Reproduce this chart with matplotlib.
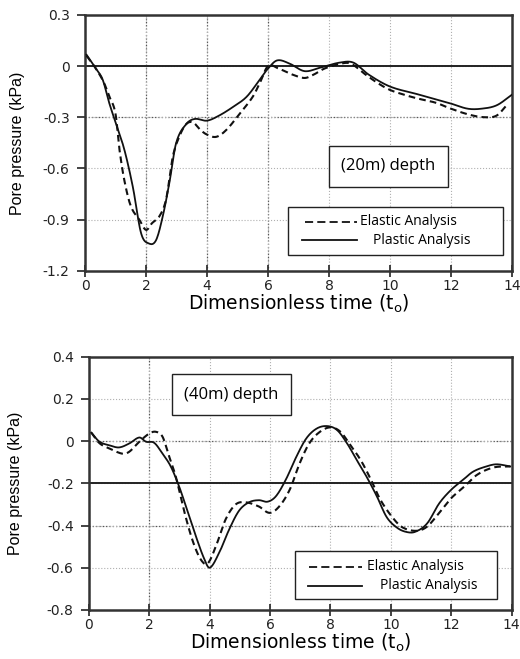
import matplotlib
matplotlib.use("Agg")
import matplotlib.pyplot as plt
from matplotlib.patches import Rectangle
import numpy as np

plt.rcParams['font.family'] = ['DejaVu Sans']

# --- 20 m depth ---
t20_el = [0.05, 0.3, 0.6, 0.8, 1.0, 1.13, 1.29, 1.5, 1.78, 2.0, 2.2, 2.44, 2.66, 2.88, 3.1, 3.32,
          3.54, 3.76, 3.98, 4.3, 4.63, 5.07, 5.5, 5.73, 6.0, 6.35, 6.8, 7.2, 7.5, 7.85, 8.3, 8.7,
          9.2, 9.6, 10.0, 10.5, 10.9, 11.5, 12.0, 12.6, 13.1, 13.5, 13.85]
p20_el = [0.06, 0.0, -0.09, -0.18, -0.28, -0.49, -0.67, -0.82, -0.9, -0.96, -0.92, -0.88, -0.78,
          -0.53, -0.41, -0.34, -0.33, -0.37, -0.40, -0.415, -0.375, -0.28, -0.18, -0.10, 0.0,
          -0.015, -0.05, -0.07, -0.05, -0.015, 0.01, 0.015, -0.05, -0.10, -0.14, -0.17, -0.19,
          -0.215, -0.25, -0.285, -0.30, -0.29, -0.225]
t20_pl = [0.05, 0.36, 0.58, 0.8, 1.02, 1.29, 1.57, 1.84, 2.1, 2.33, 2.55, 2.77, 2.99, 3.32, 3.6,
          4.0, 4.4, 4.85, 5.3, 5.73, 6.0, 6.3, 6.7, 7.2, 7.7, 8.35, 8.8, 9.3, 10.0, 10.9, 12.0,
          12.55, 13.0, 13.5, 14.0]
p20_pl = [0.066, -0.016, -0.08, -0.22, -0.34, -0.49, -0.71, -0.98, -1.04, -1.02, -0.88, -0.68,
          -0.45, -0.34, -0.31, -0.32, -0.29, -0.24, -0.18, -0.08, -0.015, 0.033, 0.015, -0.03,
          -0.01, 0.02, 0.02, -0.05, -0.12, -0.165, -0.22, -0.25, -0.25, -0.23, -0.168]

# --- 40 m depth ---
t40_el = [0.08, 0.35, 0.68, 1.12, 1.34, 1.67, 2.0, 2.22, 2.44, 2.66, 2.88, 3.15, 3.43, 3.7, 3.93,
          4.2, 4.53, 4.86, 5.19, 5.63, 5.98, 6.3, 6.65, 6.98, 7.3, 7.65, 8.0, 8.33, 8.66, 9.0,
          9.33, 9.66, 10.1, 10.4, 10.85, 11.2, 11.6, 12.0, 12.4, 12.85, 13.4, 13.95]
p40_el = [0.04, -0.01, -0.035, -0.06, -0.05, -0.003, 0.036, 0.044, 0.02, -0.074, -0.17, -0.33,
          -0.47, -0.56, -0.58, -0.50, -0.37, -0.30, -0.29, -0.31, -0.34, -0.31, -0.23, -0.105,
          -0.01, 0.044, 0.065, 0.044, -0.02, -0.09, -0.18, -0.28, -0.37, -0.41, -0.425, -0.405,
          -0.34, -0.27, -0.22, -0.16, -0.125, -0.12]
t40_pl = [0.08, 0.35, 0.68, 1.0, 1.34, 1.67, 1.89, 2.16, 2.44, 2.71, 2.99, 3.26, 3.54, 3.81, 4.0,
          4.31, 4.64, 4.97, 5.3, 5.63, 5.92, 6.2, 6.53, 6.87, 7.2, 7.55, 7.9, 8.22, 8.55, 8.87,
          9.2, 9.53, 9.86, 10.2, 10.5, 10.8, 11.2, 11.6, 12.0, 12.38, 12.72, 13.16, 13.5, 13.95]
p40_pl = [0.04, -0.003, -0.02, -0.03, -0.011, 0.017, -0.003, -0.008, -0.06, -0.12, -0.216, -0.33,
          -0.45, -0.555, -0.60, -0.53, -0.42, -0.33, -0.29, -0.28, -0.287, -0.26, -0.18, -0.074,
          0.013, 0.06, 0.071, 0.052, -0.011, -0.09, -0.17, -0.26, -0.36, -0.41, -0.43, -0.43,
          -0.39, -0.295, -0.23, -0.185, -0.145, -0.12, -0.11, -0.12]

yt20 = [0.3, 0, -0.3, -0.6, -0.9, -1.2]
yl20 = ['0.3', '0', '-0.3', '-0.6', '-0.9', '-1.2']
yt40 = [0.4, 0.2, 0, -0.2, -0.4, -0.6, -0.8]
yl40 = ['0.4', '0.2', '0', '-0.2', '-0.4', '-0.6', '-0.8']
xt = [0, 2, 4, 6, 8, 10, 12, 14]

DASH = (0, (3.2, 2))
KEYDASH = (0, (4.5, 2.3))


def smooth(t, p):
    # cubic Hermite (Catmull-Rom) through the read points
    t = np.asarray(t); p = np.asarray(p)
    tt = np.linspace(t[0], t[-1], 600)
    out = np.empty_like(tt)
    for k, x in enumerate(tt):
        i = min(max(np.searchsorted(t, x) - 1, 0), len(t) - 2)
        i0, i1, i2, i3 = max(i - 1, 0), i, i + 1, min(i + 2, len(t) - 1)
        h = t[i2] - t[i1]
        s = (x - t[i1]) / h
        m1 = (p[i2] - p[i0]) / (t[i2] - t[i0]) * h
        m2 = (p[i3] - p[i1]) / (t[i3] - t[i1]) * h
        out[k] = ((2*s**3 - 3*s**2 + 1) * p[i1] + (s**3 - 2*s**2 + s) * m1
                  + (-2*s**3 + 3*s**2) * p[i2] + (s**3 - s**2) * m2)
    return tt, out


def key(ax, box, rows):
    # hand-placed legend box: box = (x0, y0, x1, y1); rows = (y, x0, x1, xtext, style, label)
    tr = ax.transAxes
    ax.add_patch(Rectangle((box[0], box[1]), box[2] - box[0], box[3] - box[1], transform=tr,
                           fc='white', ec='#222222', lw=1.0, zorder=5))
    for y, a, b, xt_, ls, lab in rows:
        ax.plot([a, b], [y, y], transform=tr, color='#111111', lw=1.3, ls=ls, zorder=6)
        ax.text(xt_, y, lab, transform=tr, ha='left', va='center', fontsize=10,
                family=['Open Sans', 'DejaVu Sans'], zorder=6)


def panel(ax, tel, pel, tpl, ppl, yt, yl, ylim, base, dark_x, dark_y, depth, dbox, ylx):
    ax.grid(True, color='#b0b0b0', linestyle=':', linewidth=0.8)
    for v in dark_x:
        ax.axvline(v, color='#555555', ls=':', lw=0.9, zorder=1)
    for v in dark_y:
        ax.axhline(v, color='#555555', ls=':', lw=0.9, zorder=1)
    ax.axhline(base, color='#222222', lw=1.4, zorder=2)
    x, y = smooth(tel, pel)
    ax.plot(x, y, color='#111111', lw=1.5, ls=DASH, zorder=3)
    x, y = smooth(tpl, ppl)
    ax.plot(x, y, color='#111111', lw=1.3, zorder=3)
    ax.set_xlim(0, 14)
    ax.set_ylim(*ylim)
    ax.set_xticks(xt)
    ax.set_yticks(yt)
    ax.set_yticklabels(yl)
    ax.tick_params(axis='y', direction='out', length=6, width=1.2, pad=5)
    ax.tick_params(axis='x', direction='inout', length=8, width=1.2, pad=2)
    ax.tick_params(labelsize=10, colors='#222222')
    for s in ax.spines.values():
        s.set_linewidth(1.8)
        s.set_color('#333333')
    ax.set_ylabel('Pore pressure (kPa)', fontsize=11.5, family=['Liberation Sans', 'DejaVu Sans'])
    ax.yaxis.set_label_coords(ylx, 0.5)
    ax.set_xlabel('Dimensionless time (t$_\\mathregular{o}$)', fontsize=13.5)
    ax.xaxis.set_label_coords(0.5, -0.085)
    ax.text(dbox[0], dbox[1], depth, transform=ax.transAxes, ha='center', va='center',
            fontsize=12, family=['Open Sans', 'DejaVu Sans'],
            bbox=dict(boxstyle='square,pad=0.75', fc='white', ec='#222222', lw=1.0))


fig = plt.figure(figsize=(5.2, 6.59), dpi=100)
ax1 = fig.add_axes([0.1635, 0.589, 0.821, 0.3885])
ax2 = fig.add_axes([0.171, 0.0744, 0.813, 0.3844])

panel(ax1, t20_el, p20_el, t20_pl, p20_pl, yt20, yl20, (-1.2, 0.3), 0.0,
      [2, 4, 6], [-0.3], '(20m) depth', (0.711, 0.409), -0.14)
key(ax1, (0.475, 0.061, 0.979, 0.249),
    [(0.191, 0.515, 0.637, 0.645, KEYDASH, 'Elastic Analysis'),
     (0.120, 0.508, 0.637, 0.674, '-', 'Plastic Analysis')])

panel(ax2, t40_el, p40_el, t40_pl, p40_pl, yt40, yl40, (-0.8, 0.4), -0.2,
      [2], [0, -0.4], '(40m) depth', (0.337, 0.849), -0.156)
key(ax2, (0.487, 0.042, 0.965, 0.234),
    [(0.171, 0.520, 0.645, 0.657, KEYDASH, 'Elastic Analysis'),
     (0.096, 0.518, 0.645, 0.688, '-', 'Plastic Analysis')])

fig.savefig('out.png', dpi=100)
